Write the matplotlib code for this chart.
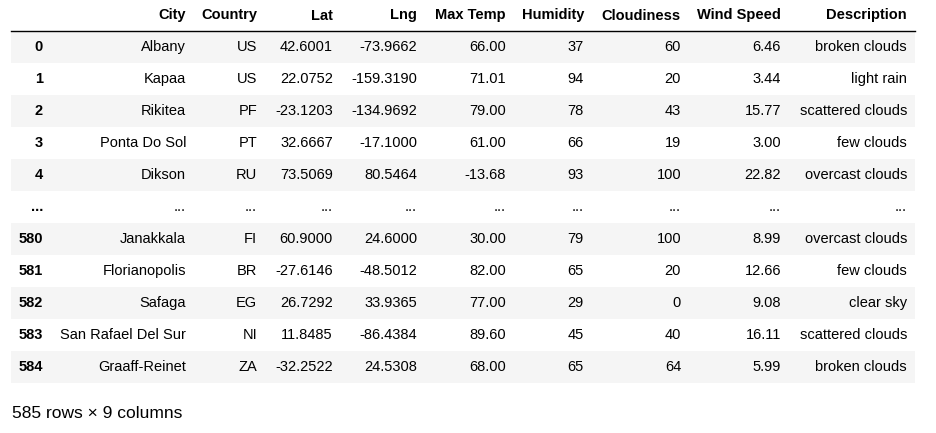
import matplotlib.pyplot as plt
from matplotlib.patches import Rectangle

plt.rcParams['font.family'] = ['Liberation Sans', 'DejaVu Sans']

columns = ['City', 'Country', 'Lat', 'Lng', 'Max Temp', 'Humidity',
           'Cloudiness', 'Wind Speed', 'Description']
index = [0, 1, 2, 3, 4, 580, 581, 582, 583, 584]
city = ['Albany', 'Kapaa', 'Rikitea', 'Ponta Do Sol', 'Dikson',
        'Janakkala', 'Florianopolis', 'Safaga', 'San Rafael Del Sur', 'Graaff-Reinet']
country = ['US', 'US', 'PF', 'PT', 'RU', 'FI', 'BR', 'EG', 'NI', 'ZA']
lat = [42.6001, 22.0752, -23.1203, 32.6667, 73.5069,
       60.9000, -27.6146, 26.7292, 11.8485, -32.2522]
lng = [-73.9662, -159.3190, -134.9692, -17.1000, 80.5464,
       24.6000, -48.5012, 33.9365, -86.4384, 24.5308]
max_temp = [66.00, 71.01, 79.00, 61.00, -13.68, 30.00, 82.00, 77.00, 89.60, 68.00]
humidity = [37, 94, 78, 66, 93, 79, 65, 29, 45, 65]
cloudiness = [60, 20, 43, 19, 100, 100, 20, 0, 40, 64]
wind_speed = [6.46, 3.44, 15.77, 3.00, 22.82, 8.99, 12.66, 9.08, 16.11, 5.99]
description = ['broken clouds', 'light rain', 'scattered clouds', 'few clouds',
               'overcast clouds', 'overcast clouds', 'few clouds', 'clear sky',
               'scattered clouds', 'broken clouds']
n_rows, n_cols = 585, 9

# build the displayed cells (with the "..." gap row after the first 5)
rows = []
for i in range(len(index)):
    rows.append([str(index[i]), city[i], country[i], f'{lat[i]:.4f}', f'{lng[i]:.4f}',
                 f'{max_temp[i]:.2f}', str(humidity[i]), str(cloudiness[i]),
                 f'{wind_speed[i]:.2f}', description[i]])
    if i == 4:
        rows.append(['...'] * 10)

# right edges of each column, in pixels
col_right = [43, 186, 257, 333, 417, 506, 584, 681, 781, 907]

fig = plt.figure(figsize=(9.36, 4.33), dpi=100)
ax = fig.add_axes([0, 0, 1, 1])
ax.set_xlim(0, 936)
ax.set_ylim(433, 0)
ax.axis('off')

left, right = 11, 915
row_h = 32
top = 31
fs = 10.5

# header
for name, x in zip(columns, col_right[1:]):
    ax.text(x, 15.5, name, ha='right', va='center', fontsize=fs, fontweight='bold')
ax.plot([left, right], [30.5, 30.5], color='black', lw=1.0)

for r, cells in enumerate(rows):
    y0 = top + r * row_h
    if r % 2 == 0:
        ax.add_patch(Rectangle((left, y0), right - left, row_h,
                               facecolor='#f5f5f5', edgecolor='none'))
    yc = y0 + row_h / 2
    for c, (val, x) in enumerate(zip(cells, col_right)):
        ax.text(x, yc, val, ha='right', va='center', fontsize=fs,
                fontweight='bold' if c == 0 else 'normal')

ax.text(12, 414, f'{n_rows} rows × {n_cols} columns', ha='left', va='center', fontsize=12.5)

fig.savefig('out.png', dpi=100)
